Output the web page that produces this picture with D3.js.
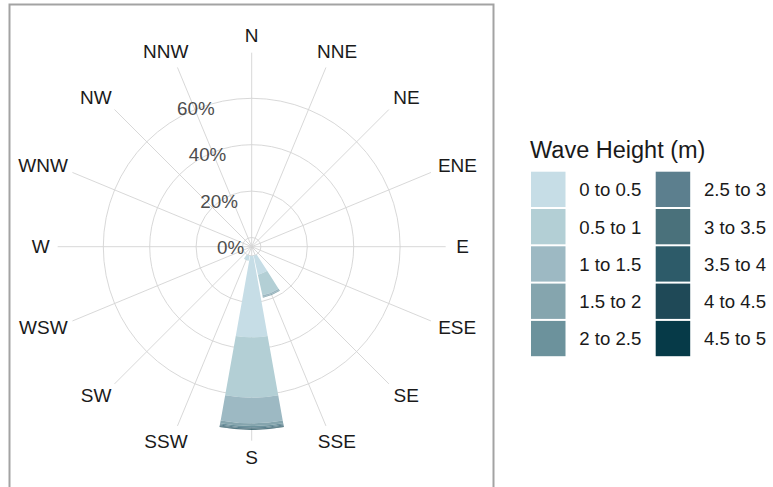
<!DOCTYPE html>
<html>
<head>
<meta charset="utf-8">
<script src="https://cdn.jsdelivr.net/npm/d3@7"></script>
<style>
  body { margin: 0; background: #fff; }
  svg { display: block; font-family: "Liberation Sans", Arial, sans-serif; }
</style>
</head>
<body>
<div id="chart"></div>
<script>
const directions = ['N', 'NNE', 'NE', 'ENE', 'E', 'ESE', 'SE', 'SSE',
  'S', 'SSW', 'SW', 'WSW', 'W', 'WNW', 'NW', 'NNW'];

const bins = ['0 to 0.5', '0.5 to 1', '1 to 1.5', '1.5 to 2', '2 to 2.5',
  '2.5 to 3', '3 to 3.5', '3.5 to 4', '4 to 4.5', '4.5 to 5'];

const binColors = ['#c6dde6', '#b3cfd5', '#9db9c3', '#85a5ae', '#6c929c',
  '#5c7f8e', '#4a717b', '#2d5b69', '#1f4957', '#063a48'];

// percent of time per direction, one value per height bin
const zeros = [0, 0, 0, 0, 0, 0, 0, 0, 0, 0];
const freqS = [35.1, 26.0, 11.0, 1.2, 0.6, 0.4, 0.3, 0.3, 0.1, 0];
const freqSSE = [8.4, 9.1, 0.7, 0.3, 0.1, 0, 0, 0, 0, 0];
const freqSSW = [2.0, 0.2, 0, 0, 0, 0, 0, 0, 0, 0];

const freqByDir = directions.map(d =>
  d === 'S' ? freqS : d === 'SSE' ? freqSSE : d === 'SSW' ? freqSSW : zeros);

const gridTicks = [0, 20, 40, 60];

const width = 773;
const height = 487;
const cx = 251.7;
const cy = 246.7;
const rMax = 194;

const svg = d3.select('#chart').append('svg')
  .attr('width', width)
  .attr('height', height);

// panel border
svg.append('rect')
  .attr('x', 9.5).attr('y', 4.5)
  .attr('width', 484).attr('height', 500)
  .attr('fill', 'none')
  .attr('stroke', '#a3a3a3')
  .attr('stroke-width', 2);

const r = d3.scaleLinear().domain([0, 60]).range([9.2, 148.4]);
const theta = d3.scaleBand().domain(directions).range([0, 2 * Math.PI]).align(0);
const step = theta.step();
const angleOf = d => theta(d);

const g = svg.append('g').attr('transform', `translate(${cx},${cy})`);

// grid circles
g.selectAll('circle.grid')
  .data(gridTicks)
  .enter()
  .append('circle')
  .attr('r', d => r(d))
  .attr('fill', 'none')
  .attr('stroke', '#d4d4d4')
  .attr('stroke-width', 0.9);

// spokes
g.selectAll('line.spoke')
  .data(directions)
  .enter()
  .append('line')
  .attr('x1', 0).attr('y1', 0)
  .attr('x2', d => rMax * Math.sin(angleOf(d)))
  .attr('y2', d => -rMax * Math.cos(angleOf(d)))
  .attr('stroke', '#d4d4d4')
  .attr('stroke-width', 0.9);

// stacked bars
const table = directions.map((d, i) => {
  const row = { dir: d };
  bins.forEach((b, j) => { row[b] = freqByDir[i][j]; });
  return row;
});
const stacked = d3.stack().keys(bins)(table);
const color = d3.scaleOrdinal().domain(bins).range(binColors);
const barWidth = step * 0.9;

const arc = d3.arc()
  .innerRadius(d => r(d[0]))
  .outerRadius(d => r(d[1]))
  .startAngle(d => angleOf(d.data.dir) - barWidth / 2)
  .endAngle(d => angleOf(d.data.dir) + barWidth / 2);

g.selectAll('g.layer')
  .data(stacked)
  .enter()
  .append('g')
  .attr('fill', d => color(d.key))
  .selectAll('path')
  .data(d => d.filter(p => p[1] - p[0] > 0))
  .enter()
  .append('path')
  .attr('d', arc);

// percent labels
g.selectAll('text.pct')
  .data(gridTicks)
  .enter()
  .append('text')
  .attr('x', d => -21 - (r(d) - r(0)) * 0.25)
  .attr('y', d => -r(d) + 10)
  .attr('text-anchor', 'middle')
  .attr('dominant-baseline', 'central')
  .attr('fill', '#4d4d4d')
  .attr('font-size', 18.8)
  .text(d => `${d}%`);

// direction labels
const dirLabels = g.selectAll('text.dir')
  .data(directions)
  .enter()
  .append('text')
  .attr('text-anchor', 'middle')
  .attr('dominant-baseline', 'central')
  .attr('fill', '#1a1a1a')
  .attr('font-size', 19)
  .text(d => d);

dirLabels.each(function (d) {
  const a = angleOf(d);
  const w = this.getComputedTextLength();
  const shift = Math.abs(Math.sin(a)) > 0.99 ? 0 : 0.3 * w * Math.sin(a);
  d3.select(this)
    .attr('x', 211 * Math.sin(a) + shift)
    .attr('y', -211 * Math.cos(a));
});

// legend
const legend = svg.append('g').attr('transform', 'translate(530,0)');

legend.append('text')
  .attr('x', 0)
  .attr('y', 150)
  .attr('dominant-baseline', 'central')
  .attr('font-size', 23.5)
  .attr('fill', '#1a1a1a')
  .text('Wave Height (m)');

const keys = legend.selectAll('g.key')
  .data(bins)
  .enter()
  .append('g')
  .attr('transform', (d, i) =>
    `translate(${Math.floor(i / 5) * 124.7},${171.7 + (i % 5) * 37.3})`);

keys.append('rect')
  .attr('x', 1)
  .attr('width', 34.5)
  .attr('height', 35.3)
  .attr('fill', d => color(d));

keys.append('text')
  .attr('x', 49.3)
  .attr('y', 18)
  .attr('dominant-baseline', 'central')
  .attr('font-size', 18.6)
  .attr('fill', '#1a1a1a')
  .text(d => d);
</script>
</body>
</html>
